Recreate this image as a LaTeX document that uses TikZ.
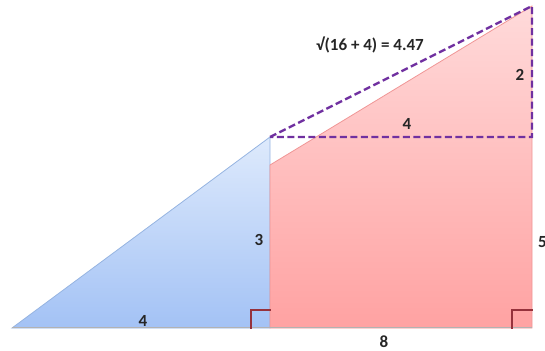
\documentclass[tikz,border=0pt]{standalone}
\usepackage{fontspec}
\setmainfont{Carlito}
\begin{document}
\begin{tikzpicture}[x=1pt,y=-1pt,
  lbl/.style={font=\bfseries\fontsize{17}{17}\selectfont, text=black!85, inner sep=0pt},
  hyp/.style={draw={rgb,255:red,112;green,48;blue,160}, line width=2.4pt, dash pattern=on 7pt off 3.5pt},
  rmark/.style={draw={rgb,255:red,150;green,50;blue,60}, line width=1.8pt, line cap=rect}]
\useasboundingbox (0,0) rectangle (545,350);
% coordinates
\coordinate (bl) at (12,328);
\coordinate (bm) at (270,328);
\coordinate (bt) at (270,137);
\coordinate (rb) at (532,328);
\coordinate (rt) at (532,6);
\coordinate (rl) at (270,165);
\coordinate (rm) at (532,137);
% blue triangle
\shade[top color={rgb,255:red,222;green,234;blue,252}, bottom color={rgb,255:red,163;green,194;blue,245}]
  (bl) -- (bm) -- (bt) -- cycle;
\draw[draw={rgb,255:red,150;green,180;blue,225}, line width=0.8pt] (bl) -- (bm) -- (bt) -- cycle;
% red region
\shade[top color={rgb,255:red,255;green,218;blue,218}, bottom color={rgb,255:red,255;green,162;blue,162}]
  (bm) -- (rb) -- (rt) -- (rl) -- cycle;
\draw[draw={rgb,255:red,240;green,150;blue,150}, line width=0.8pt] (bm) -- (rb) -- (rt) -- (rl) -- cycle;
% bottom shadow line
\draw[draw=black!30, line width=0.8pt] ([yshift=1pt]bl) -- ([yshift=1pt]rb);
% right angle marks
\coordinate (m1a) at (251,328);
\coordinate (m1b) at (251,310);
\coordinate (m1c) at (270,310);
\draw[rmark] (m1a) -- (m1b) -- (m1c);
\coordinate (m2a) at (512,328);
\coordinate (m2b) at (512,310);
\coordinate (m2c) at (532,310);
\draw[rmark] (m2a) -- (m2b) -- (m2c);
% dashed hypotenuse triangle
\draw[hyp] (bt) -- (rt) -- (rm) -- cycle;
% labels
\node[lbl] (lh) at (370,45) {√(16 + 4) = 4.47};
\node[lbl] (l2) at (520,75) {2};
\node[lbl] (l4a) at (407,124) {4};
\node[lbl] (l3) at (259,240) {3};
\node[lbl, anchor=west] (l5) at (538,242) {5};
\node[lbl] (l4b) at (143,321) {4};
\node[lbl] (l8) at (384,342) {8};
\end{tikzpicture}
\end{document}
